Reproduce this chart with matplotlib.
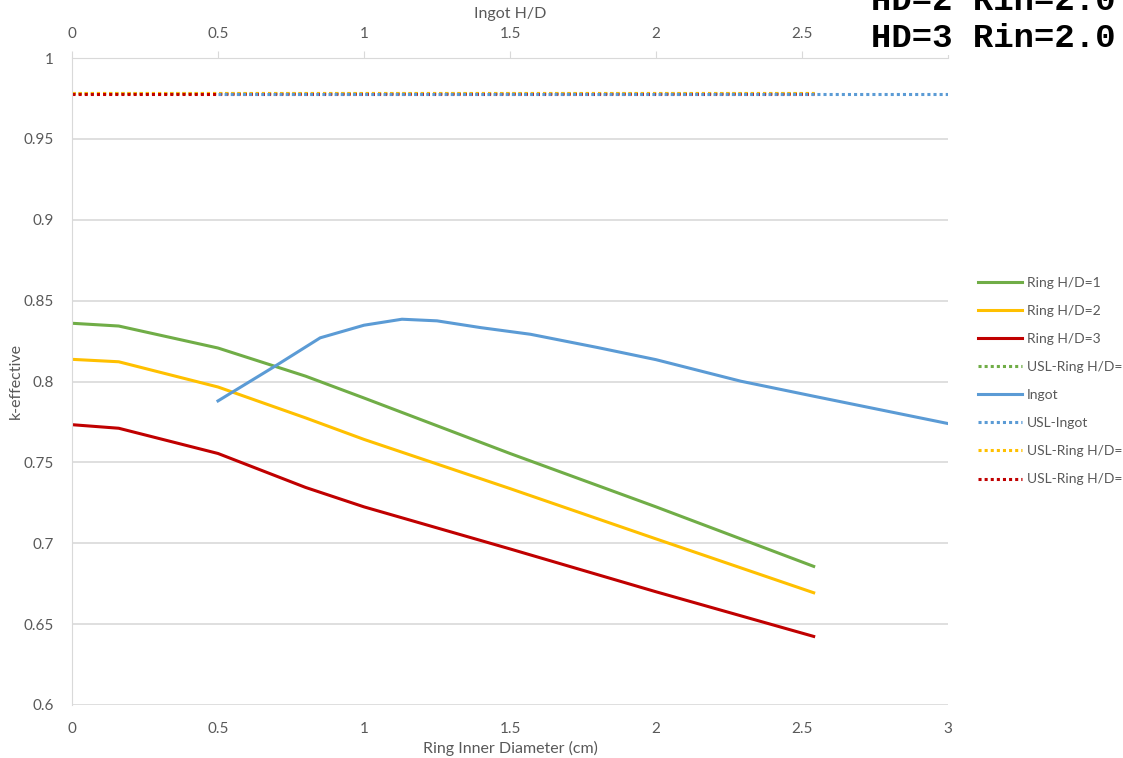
import numpy as np
import matplotlib
matplotlib.use("Agg")
import matplotlib.pyplot as plt
from matplotlib.ticker import FuncFormatter

plt.rcParams['font.family'] = ['Lato', 'DejaVu Sans']

# ring inner diameter (cm) and k-effective for the three ring H/D cases
ring_x = [0, 0.16, 0.5, 0.8, 1.0, 1.5, 2.0, 2.54]
ring_hd1 = [0.836, 0.8343, 0.8207, 0.8033, 0.7898, 0.7555, 0.7225, 0.6857]
ring_hd2 = [0.8137, 0.8122, 0.7966, 0.7775, 0.7642, 0.7338, 0.7027, 0.6694]
ring_hd3 = [0.7733, 0.7711, 0.7555, 0.7345, 0.7225, 0.6965, 0.6700, 0.6424]

# ingot H/D and k-effective
ingot_x = [0.5, 0.7, 0.85, 1.0, 1.13, 1.25, 1.4, 1.57, 1.8, 2.0, 2.29, 2.54, 3.0]
ingot_k = [0.788, 0.810, 0.827, 0.8348, 0.8385, 0.8375, 0.8333, 0.8292,
           0.821, 0.8135, 0.8002, 0.7909, 0.774]

# upper subcritical limits
usl_ring_x = [0, 2.54]
usl_hd1 = [0.9785, 0.9785]
usl_hd2 = [0.9785, 0.9785]
usl_hd3 = [0.9775, 0.9775]
usl_ingot_x = [0.5, 3.0]
usl_ingot = [0.978, 0.978]

green = '#70AD47'
yellow = '#FFC000'
red = '#C00000'
blue = '#5B9BD5'
grey_txt = '#595959'
grid_c = '#D9D9D9'

W, H = 1123, 758
fig = plt.figure(figsize=(W/100, H/100), dpi=100)
ax = fig.add_axes([72/W, 1-705/H, (948-72)/W, (705-58)/H])
ax2 = ax.twiny()

lw = 2.2
dot = (0, (1, 1))
l1, = ax.plot(ring_x, ring_hd1, color=green, lw=lw, label='Ring H/D=1')
l2, = ax.plot(ring_x, ring_hd2, color=yellow, lw=lw, label='Ring H/D=2')
l3, = ax.plot(ring_x, ring_hd3, color=red, lw=lw, label='Ring H/D=3')
l4, = ax.plot(usl_ring_x, usl_hd1, color=green, lw=lw, ls=dot, label='USL-Ring H/D=1')
l5, = ax2.plot(ingot_x, ingot_k, color=blue, lw=lw, label='Ingot')
l6, = ax2.plot(usl_ingot_x, usl_ingot, color=blue, lw=lw, ls=dot, label='USL-Ingot')
l7, = ax.plot(usl_ring_x, usl_hd2, color=yellow, lw=lw, ls=dot, label='USL-Ring H/D=2')
l8, = ax.plot(usl_ring_x, usl_hd3, color=red, lw=lw, ls=dot, label='USL-Ring H/D=3')

for a in (ax, ax2):
    a.set_xlim(0, 3)
    a.set_ylim(0.6, 1.0)
    for s in ('right', 'bottom', 'top'):
        a.spines[s].set_visible(False)
    a.spines['left'].set_color(grid_c)

ax.set_yticks(np.arange(0.6, 1.001, 0.05))
ax.yaxis.set_major_formatter(FuncFormatter(lambda v, p: '%g' % round(v, 2)))
ax.set_xticks(np.arange(0, 3.01, 0.5))
ax.xaxis.set_major_formatter(FuncFormatter(lambda v, p: '%g' % v))
ax.grid(axis='y', color=grid_c, lw=1.2)
ax.set_axisbelow(True)
ax.tick_params(axis='y', length=0, pad=13, labelsize=11, labelcolor=grey_txt)
ax.tick_params(axis='x', length=0, pad=12, labelsize=11, labelcolor=grey_txt)

# top axis: the "3" label sits under the annotation text, so it is left out
ax2.set_xticks(np.arange(0, 3.01, 0.5))
ax2.set_xticklabels(['0', '0.5', '1', '1.5', '2', '2.5', ''])
ax2.tick_params(axis='x', length=5, color=grid_c, pad=7, labelsize=11, labelcolor=grey_txt)
ax2.spines['top'].set_visible(True)
ax2.spines['top'].set_color(grid_c)
ax2.spines['left'].set_visible(False)

fig.text(510/W, 1-748/H, 'Ring Inner Diameter (cm)', fontsize=11.5, color=grey_txt,
         ha='center', va='center')
fig.text(16/W, 1-381/H, 'k-effective', fontsize=11.5, color=grey_txt,
         ha='center', va='center', rotation=90)
fig.text(510/W, 1-14/H, 'Ingot H/D', fontsize=11.5, color=grey_txt,
         ha='center', va='center')

handles = [l1, l2, l3, l4, l5, l6, l7, l8]
fig.legend(handles=handles, loc='center left', bbox_to_anchor=(978/W, 1-381/H),
           frameon=False, fontsize=10, handlelength=3.2, handletextpad=0.3,
           labelspacing=1.16, borderpad=0, borderaxespad=0, labelcolor=grey_txt)

fig.text(871/W, 1-47/H, 'HD=3 Rin=2.0', family='Liberation Mono', weight='bold',
         fontsize=24.5, va='baseline', ha='left', color='black',
         bbox=dict(facecolor='white', edgecolor='none', pad=1))
fig.text(871/W, 1-10/H, 'HD=2 Rin=2.0', family='Liberation Mono', weight='bold',
         fontsize=24.5, va='baseline', ha='left', color='black')

fig.savefig('out.png', dpi=100)
